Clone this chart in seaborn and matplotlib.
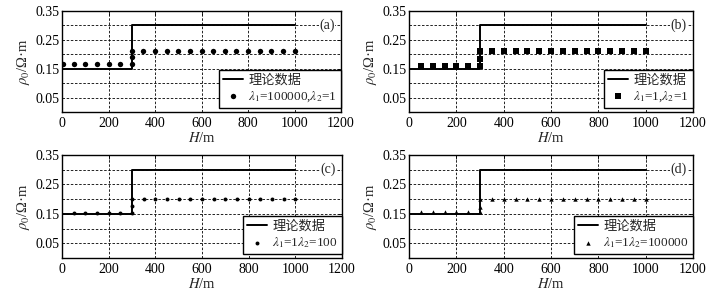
import numpy as np
import pandas as pd
import matplotlib
matplotlib.use("Agg")
import matplotlib.pyplot as plt
import seaborn as sns
from matplotlib.ticker import MultipleLocator, FixedLocator

sns.set_theme(style="white")
plt.rcParams['font.family'] = ['Liberation Serif', 'Noto Sans CJK SC']
plt.rcParams['mathtext.fontset'] = 'stix'

# Theoretical model
theory_h = [0, 300, 300, 1000]
theory_rho = [0.15, 0.15, 0.30, 0.30]

# Inverted results
h_a = [5, 50, 100, 150, 200, 250, 300, 300, 300, 350, 400, 450, 500, 550, 600, 650, 700, 750, 800, 850, 900, 950, 1000]
rho_a = [0.165, 0.165, 0.165, 0.165, 0.165, 0.165, 0.165, 0.189, 0.211,
         0.211, 0.211, 0.211, 0.211, 0.211, 0.211, 0.211, 0.211, 0.211, 0.211, 0.211, 0.211, 0.211, 0.211]

h_b = [50, 100, 150, 200, 250, 300, 300, 300, 350, 400, 450, 500, 550, 600, 650, 700, 750, 800, 850, 900, 950, 1000]
rho_b = [0.160, 0.160, 0.160, 0.160, 0.160, 0.160, 0.183, 0.212,
         0.212, 0.212, 0.212, 0.212, 0.212, 0.212, 0.212, 0.212, 0.212, 0.212, 0.212, 0.212, 0.212, 0.212]

h_c = [50, 100, 150, 200, 250, 300, 300, 300, 350, 400, 450, 500, 550, 600, 650, 700, 750, 800, 850, 900, 950, 1000]
rho_c = [0.152, 0.152, 0.152, 0.152, 0.152, 0.152, 0.176, 0.202,
         0.202, 0.202, 0.202, 0.202, 0.202, 0.202, 0.202, 0.202, 0.202, 0.202, 0.202, 0.202, 0.202, 0.202]

h_d = [50, 100, 150, 200, 250, 300, 300, 300, 350, 400, 450, 500, 550, 600, 650, 700, 750, 800, 850, 900, 950, 1000]
rho_d = [0.155, 0.155, 0.155, 0.155, 0.155, 0.155, 0.172, 0.200,
         0.200, 0.200, 0.200, 0.200, 0.200, 0.200, 0.200, 0.200, 0.200, 0.200, 0.200, 0.200, 0.200, 0.200]

labels = [r'$\lambda_1$=100000,$\lambda_2$=1',
          r'$\lambda_1$=1,$\lambda_2$=1',
          r'$\lambda_1$=1$\lambda_2$=100',
          r'$\lambda_1$=1$\lambda_2$=100000']
panel_tags = ['(a)', '(b)', '(c)', '(d)']
theory_label = '理论数据'

series = [(h_a, rho_a, 'o', 15), (h_b, rho_b, 's', 20), (h_c, rho_c, 'o', 8), (h_d, rho_d, '^', 10)]

W, H = 712, 296
fig = plt.figure(figsize=(W / 100, H / 100), dpi=100)
boxes = [(62, 11, 341, 112), (409, 11, 693, 112), (62, 155, 342, 258), (409, 155, 693, 258)]

theory_df = pd.DataFrame({'H': theory_h, 'rho': theory_rho})

for i, (l, t, r, b) in enumerate(boxes):
    ax = fig.add_axes([l / W, 1 - b / H, (r - l) / W, (b - t) / H])
    hh, rr, mk, ms = series[i]
    sns.lineplot(data=theory_df, x='H', y='rho', sort=False, estimator=None,
                 color='black', linewidth=1.4, ax=ax, label=theory_label, zorder=3)
    sns.scatterplot(x=hh, y=rr, marker=mk, s=ms, color='black', edgecolor='black',
                    linewidth=0, ax=ax, label=labels[i], zorder=4)
    ax.set_xlim(0, 1200)
    ax.set_ylim(0, 0.35)
    ax.xaxis.set_major_locator(MultipleLocator(200))
    ax.yaxis.set_major_locator(FixedLocator([0.05, 0.15, 0.25, 0.35]))
    ax.yaxis.set_minor_locator(FixedLocator([0.10, 0.20, 0.30]))
    ax.grid(True, which='both', linestyle=(0, (3, 2)), color='black', linewidth=0.6)
    ax.set_axisbelow(True)
    ax.tick_params(which='both', direction='in', top=True, right=True, length=3,
                   width=0.6, labelsize=10, colors='black')
    ax.tick_params(axis='x', pad=3.5)
    ax.tick_params(axis='y', pad=2)
    ax.tick_params(which='minor', length=0)
    ax.set_yticklabels(['0.05', '0.15', '0.25', '0.35'])
    for sp in ax.spines.values():
        sp.set_color('black')
        sp.set_linewidth(1.0)
        sp.set_visible(True)
    ax.set_xlabel(r'$H$/m', fontsize=10.5, labelpad=0.5)
    ax.set_ylabel(r'$\rho_0$/Ω·m', fontsize=10.5, labelpad=2)
    ax.text(1140, 0.30, panel_tags[i], ha='center', va='center', fontsize=10,
            bbox=dict(facecolor='white', edgecolor='none', pad=0.5), zorder=5)
    leg = ax.legend(loc='lower right', bbox_to_anchor=(1.0, 0.04), fontsize=9.5,
                    frameon=True, fancybox=False, borderaxespad=0.0,
                    handlelength=1.5, handletextpad=0.4,
                    borderpad=0.3, labelspacing=0.2, markerscale=1.0)
    leg.get_frame().set_edgecolor('black')
    leg.get_frame().set_linewidth(1.0)
    leg.get_frame().set_alpha(1)

fig.savefig('out.png', dpi=100, facecolor='white')
